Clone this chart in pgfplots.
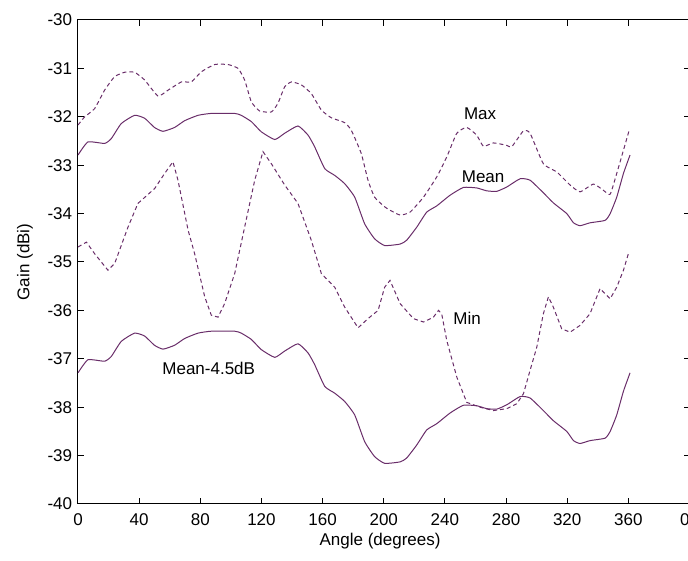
\documentclass[border=0pt]{standalone}
\usepackage{pgfplots}
\pgfplotsset{compat=1.18}
\usepackage{fontspec}
\setmainfont{Liberation Sans}
\definecolor{lc}{RGB}{105,45,105}
\begin{document}
\fontsize{17}{20}\selectfont
\begin{tikzpicture}
\begin{axis}[
  scale only axis, width=611.5pt, height=484pt,
  xmin=0, xmax=400, ymin=-40, ymax=-30,
  xtick={0,40,...,400},
  xticklabels={0,40,80,120,160,200,240,280,320,360,\llap{0}},
  ytick={-40,-39,...,-30},
  yticklabels={-40,-39,-38,-37,-36,-35,-34,-33,-32,-31,-30},
  tick align=inside, major tick length=6pt,
  axis line style={line width=1pt}, tick style={line width=1pt,black},
  xticklabel style={yshift=-4pt},
  xlabel={Angle (degrees)}, ylabel={Gain (dBi)},
  xlabel style={at={(axis description cs:0.494,-0.0764)},anchor=center},
  ylabel style={at={(axis description cs:-0.0867,0.5)},anchor=center},
]
\coordinate (sw) at (rel axis cs:0,0);
\coordinate (ne) at (rel axis cs:1,1);
% Max
\addplot[lc, line width=1pt, no markers, dash pattern=on 4pt off 3pt, smooth, tension=0.3] coordinates {
(0,-32.17)(4.4,-32.0)(10.9,-31.83)(17.4,-31.45)(24,-31.17)(30.5,-31.08)(37,-31.08)(43.6,-31.24)(52.3,-31.57)(58.9,-31.45)(67.6,-31.28)(74.1,-31.28)(80.7,-31.07)(89.4,-30.92)(98.1,-30.92)(104.7,-31.0)(109,-31.24)(113.4,-31.69)(118.8,-31.88)(126.5,-31.9)(130.8,-31.72)(135.2,-31.38)(139.6,-31.28)(146.1,-31.34)(152.6,-31.52)(159.2,-31.86)(165.7,-32.02)(174.4,-32.12)(178.8,-32.28)(185.3,-32.76)(189.7,-33.31)(194,-33.66)(200.6,-33.86)(204.1,-33.93)(210.7,-34.03)(217.2,-33.97)(226,-33.66)(234.7,-33.24)(241.2,-32.83)(247.8,-32.34)(254.3,-32.22)(260.8,-32.38)(265.2,-32.61)(271.7,-32.54)(280.5,-32.59)(283.7,-32.62)(291.4,-32.29)(295.7,-32.34)(304.4,-32.97)(313.2,-33.14)(321.9,-33.41)(328.4,-33.55)(337.2,-33.39)(343.7,-33.52)(348.1,-33.6)(352.4,-33.17)(356.8,-32.69)(360.7,-32.26)
};
% Mean
\addplot[lc, line width=1pt, no markers, solid, smooth, tension=0.3] coordinates {
(0,-32.79)(6.5,-32.52)(17.4,-32.55)(21.8,-32.45)(28.3,-32.14)(37,-31.97)(43.6,-32.03)(50,-32.22)(55.6,-32.30)(63.2,-32.22)(69.8,-32.08)(78.5,-31.97)(87.2,-31.93)(102.5,-31.93)(106.8,-31.97)(113.4,-32.10)(119.9,-32.31)(128.7,-32.47)(135.2,-32.34)(143.9,-32.19)(150.5,-32.38)(154.8,-32.62)(161.4,-33.07)(167.9,-33.21)(174.4,-33.38)(181,-33.66)(187.5,-34.21)(194,-34.52)(200.6,-34.66)(210.7,-34.63)(215,-34.55)(221.6,-34.28)(228.1,-33.97)(234.7,-33.84)(243.4,-33.62)(252.1,-33.46)(260.8,-33.47)(267.4,-33.53)(273.9,-33.54)(280.5,-33.45)(289.2,-33.28)(295.7,-33.31)(304.4,-33.57)(311,-33.78)(319.7,-34.0)(324.1,-34.19)(328.4,-34.25)(335,-34.19)(344.8,-34.14)(348.1,-34.0)(352.4,-33.66)(356.8,-33.17)(361.1,-32.79)
};
% Min
\addplot[lc, line width=1pt, no markers, dash pattern=on 4pt off 3pt] coordinates {
(0,-34.69)(5.5,-34.59)(10.9,-34.83)(19.6,-35.17)(24,-35.03)(32.7,-34.28)(39.2,-33.79)(50.2,-33.48)(56.7,-33.17)(62.1,-32.93)(65.4,-33.31)(72,-34.34)(76.3,-34.83)(82.9,-35.72)(87.2,-36.1)(91.6,-36.14)(95.9,-35.86)(102.5,-35.24)(109,-34.28)(115.6,-33.31)(121,-32.72)(126.5,-32.97)(135.2,-33.41)(143.9,-33.79)(152.6,-34.55)(159.2,-35.24)(167.9,-35.52)(174.4,-35.93)(183.2,-36.36)(189.7,-36.17)(196.3,-36.0)(200.6,-35.52)(204.1,-35.38)(210.7,-35.86)(219.4,-36.17)(226,-36.24)(232.5,-36.14)(235.8,-36.0)(237.9,-36.07)(241.2,-36.62)(247.8,-37.38)(254.3,-37.9)(263,-38.0)(271.7,-38.07)(280.5,-38.03)(287,-37.93)(291.4,-37.72)(295.7,-37.24)(300.1,-36.76)(304.4,-36.07)(307.7,-35.72)(310.9,-35.93)(316.4,-36.38)(321.9,-36.45)(328.4,-36.31)(334.9,-36.07)(341.5,-35.55)(348.1,-35.76)(352.4,-35.52)(356.8,-35.17)(360,-34.83)
};
% Mean-4.5dB
\addplot[lc, line width=1pt, no markers, solid, smooth, tension=0.3] coordinates {
(0,-37.29)(6.5,-37.02)(17.4,-37.05)(21.8,-36.95)(28.3,-36.64)(37,-36.47)(43.6,-36.53)(50,-36.72)(55.6,-36.80)(63.2,-36.72)(69.8,-36.58)(78.5,-36.47)(87.2,-36.43)(102.5,-36.43)(106.8,-36.47)(113.4,-36.60)(119.9,-36.81)(128.7,-36.97)(135.2,-36.84)(143.9,-36.69)(150.5,-36.88)(154.8,-37.12)(161.4,-37.57)(167.9,-37.71)(174.4,-37.88)(181,-38.16)(187.5,-38.71)(194,-39.02)(200.6,-39.16)(210.7,-39.13)(215,-39.05)(221.6,-38.78)(228.1,-38.47)(234.7,-38.34)(243.4,-38.12)(252.1,-37.96)(260.8,-37.97)(267.4,-38.03)(273.9,-38.04)(280.5,-37.95)(289.2,-37.78)(295.7,-37.81)(304.4,-38.07)(311,-38.28)(319.7,-38.5)(324.1,-38.69)(328.4,-38.75)(335,-38.69)(344.8,-38.64)(348.1,-38.5)(352.4,-38.16)(356.8,-37.67)(361.1,-37.29)
};
\node at (axis cs:263,-31.94) {Max};
\node at (axis cs:265,-33.23) {Mean};
\node at (axis cs:254.5,-36.16) {Min};
\node at (axis cs:85.5,-37.19) {Mean-4.5dB};
\end{axis}
\pgfresetboundingbox
\path[use as bounding box] ([shift={(-78pt,-57pt)}]sw) rectangle ([shift={(-1.5pt,20pt)}]ne);
\end{tikzpicture}
\end{document}
